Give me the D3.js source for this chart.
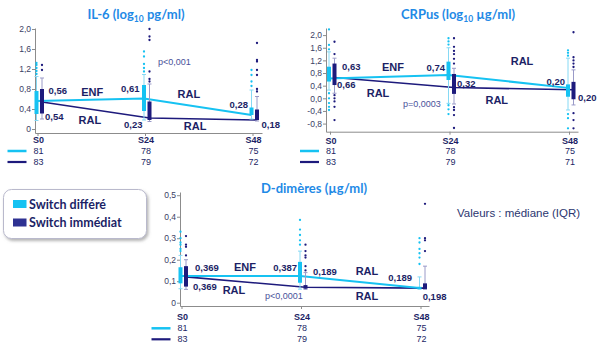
<!DOCTYPE html>
<html><head><meta charset="utf-8">
<script src="https://cdn.jsdelivr.net/npm/d3@7"></script>
<style>body{margin:0;background:#fff}svg{display:block}</style>
</head><body>
<svg id="c" width="600" height="350"></svg>
<script>
// ---------- DATA ----------
const weeks = ["S0", "S24", "S48"];
const weekNum = [0, 24, 48];
const seriesNames = ["Switch différé", "Switch immédiat"];
const armLabels = ["ENF", "RAL"];
const noteText = "Valeurs : médiane (IQR)";

// IL-6 (log10 pg/ml)
const il6Ticks = [0, 0.4, 0.8, 1.2, 1.6, 2.0];
const il6DiffMed = [0.56, 0.61, 0.28];
const il6ImmMed = [0.54, 0.22, 0.18];
const il6DiffLabel = ["0,56", "0,61", "0,28"];
const il6ImmLabel = ["0,54", "0,23", "0,18"];
const il6DiffQ1 = [0.30, 0.36, 0.28];
const il6DiffQ3 = [0.76, 0.88, 0.43];
const il6ImmQ1 = [0.31, 0.18, 0.18];
const il6ImmQ3 = [0.80, 0.55, 0.39];
const il6DiffLo = [0.17, 0.18, 0.20];
const il6DiffHi = [1.05, 1.09, 0.78];
const il6ImmLo = [0.20, 0.15, 0.16];
const il6ImmHi = [1.02, 0.90, 0.65];
const il6DiffOut = [[1.10, 1.16, 1.22, 1.28, 1.32], [1.15, 1.22, 1.30, 1.45, 1.55], [0.86, 0.95, 1.08, 1.18]];
const il6ImmOut = [[1.18, 1.28], [0.95, 1.00, 1.15, 1.78, 1.85, 2.00], [0.75, 0.80, 1.08, 1.18, 1.35, 1.38, 1.72]];
const il6DiffN = [81, 78, 75];
const il6ImmN = [83, 79, 72];
const il6P = "p<0,001";

// CRPus (log10 µg/ml)
const crpTicks = [-0.8, -0.4, 0, 0.4, 0.8, 1.2, 1.6, 2.0];
const crpDiffMed = [0.63, 0.74, 0.33];
const crpImmMed = [0.66, 0.34, 0.27];
const crpDiffLabel = ["0,63", "0,74", "0,20"];
const crpImmLabel = ["0,66", "0,32", "0,20"];
const crpDiffQ1 = [0.53, 0.58, 0.05];
const crpDiffQ3 = [1.00, 1.16, 0.44];
const crpImmQ1 = [0.42, 0.14, -0.03];
const crpImmQ3 = [1.10, 0.77, 0.52];
const crpDiffLo = [0.26, -0.16, -0.37];
const crpDiffHi = [1.47, 1.60, 1.27];
const crpImmLo = [0.16, -0.18, -0.21];
const crpImmHi = [1.27, 0.95, 0.90];
const crpDiffOut = [[-0.37, -0.27, -0.15, 0.0, 0.16, 1.55, 1.69, 2.18], [-0.50, -0.35, -0.22, 1.70, 1.80, 1.90], [-0.95, -0.63, -0.50, 1.35, 1.44, 1.52]];
const crpImmOut = [[-0.69, -0.27, -0.10, 0.0, 0.10, 1.40, 1.79], [-0.94, -0.53, -0.37, -0.28, 1.10, 1.25, 1.40, 1.50, 1.63, 1.90], [-0.95, -0.69, -0.47, 0.99, 1.10, 1.20, 1.30, 2.09]];
const crpDiffN = [81, 78, 75];
const crpImmN = [83, 79, 71];
const crpP = "p=0,0003";

// D-dimères (µg/ml)
const ddTicks = [0, 0.1, 0.2, 0.3, 0.4, 0.5];
const ddDiffMed = [0.124, 0.124, 0.068];
const ddImmMed = [0.120, 0.072, 0.068];
const ddDiffLabel = ["0,369", "0,387", "0,189"];
const ddImmLabel = ["0,369", "0,189", "0,198"];
const ddDiffQ1 = [0.090, 0.093, 0.064];
const ddDiffQ3 = [0.165, 0.190, 0.074];
const ddImmQ1 = [0.075, 0.065, 0.064];
const ddImmQ3 = [0.170, 0.082, 0.090];
const ddDiffLo = [0.065, 0.063, 0.062];
const ddDiffHi = [0.220, 0.240, 0.120];
const ddImmLo = [0.062, 0.062, 0.062];
const ddImmHi = [0.200, 0.140, 0.170];
const ddDiffOut = [[0.24, 0.25, 0.27, 0.28, 0.30, 0.33], [0.27, 0.29, 0.315, 0.34, 0.385], [0.18, 0.21, 0.23, 0.25, 0.28, 0.30]];
const ddImmOut = [[0.22, 0.26, 0.27, 0.31], [0.15, 0.17, 0.21, 0.22, 0.24, 0.27], [0.24, 0.29, 0.30, 0.46]];
const ddDiffN = [81, 78, 75];
const ddImmN = [83, 79, 72];
const ddP = "p<0,0001";

// ---------- DRAWING ----------
const C = {light: "#16c2f2", dark: "#1d1a7c", lightW: "#86d9f4", darkW: "#9a9ac8",
  text: "#1c1f66", title: "#1f8ae6", p: "#4a4f9a", axis: "#8c8c8c", tick: "#3a3d63", legDark: "#2e3192"};
const FONT = "'Liberation Sans', Arial, sans-serif";
const TFONT = "Lato, 'Liberation Sans', sans-serif";
const loc = d3.formatLocale({decimal: ",", thousands: " ", grouping: [3], currency: ["", "€"], minus: "-"});
const f1 = loc.format(".1f");

const svg = d3.select("#c");
const defs = svg.append("defs");
defs.append("filter").attr("id", "sh").attr("x", "-10%").attr("y", "-20%").attr("width", "130%").attr("height", "160%")
  .append("feDropShadow").attr("dx", 1.5).attr("dy", 2).attr("stdDeviation", 1.5)
  .attr("flood-color", "#777").attr("flood-opacity", 0.55);

function panel(p) {
  const g = svg.append("g");
  const x = d3.scaleLinear().domain([0, 48]).range(p.xr);
  const y = d3.scaleLinear().domain(p.yd).range(p.yr);

  // title
  const t = g.append("text").attr("x", p.titleX).attr("y", p.titleY).attr("text-anchor", "middle")
    .attr("font-family", TFONT).attr("font-weight", 700).attr("font-size", 13).attr("fill", C.title);
  p.title.forEach(part => {
    const s = t.append("tspan").text(part.t);
    if (part.sub) s.attr("font-size", 8.5).attr("dy", 3);
    else if (part.after) s.attr("dy", -3);
  });

  // y axis
  g.append("g").attr("transform", `translate(${p.ax},0)`)
    .call(d3.axisLeft(y).tickValues(p.ticks).tickSize(3).tickSizeOuter(0).tickPadding(1).tickFormat(p.tf))
    .call(a => {
      a.select(".domain").attr("stroke", C.axis);
      a.selectAll(".tick line").attr("stroke", C.axis);
      a.selectAll("text").attr("fill", C.tick).attr("font-size", 8.5).attr("font-family", FONT);
    });
  // x axis
  const x2 = x.copy().domain([x.invert(p.ax), x.invert(p.xEnd)]).range([p.ax, p.xEnd]);
  g.append("g").attr("transform", `translate(0,${p.yr[0]})`)
    .call(d3.axisBottom(x2).tickValues(weekNum).tickSize(3).tickSizeOuter(0).tickFormat(""))
    .call(a => { a.select(".domain").attr("stroke", C.axis); a.selectAll(".tick line").attr("stroke", C.axis); });

  const groups = [
    {off: -1, med: p.dMed, q1: p.dQ1, q3: p.dQ3, lo: p.dLo, hi: p.dHi, out: p.dOut, col: C.light, wcol: C.lightW, lw: 2},
    {off: 4.5, med: p.iMed, q1: p.iQ1, q3: p.iQ3, lo: p.iLo, hi: p.iHi, out: p.iOut, col: C.dark, wcol: C.darkW, lw: 1.6}
  ];
  // median lines (dark first)
  [groups[1], groups[0]].forEach(gr => {
    g.append("path").datum(gr.med)
      .attr("d", d3.line().x((d, i) => x(weekNum[i]) + gr.off).y(d => y(d)))
      .attr("fill", "none").attr("stroke", gr.col).attr("stroke-width", gr.lw);
  });
  // boxes
  groups.forEach(gr => {
    const bg = g.append("g");
    weekNum.forEach((w, i) => {
      const cx = x(w) + gr.off;
      bg.append("line").attr("x1", cx).attr("x2", cx).attr("y1", y(gr.lo[i])).attr("y2", y(gr.hi[i]))
        .attr("stroke", gr.wcol).attr("stroke-width", 1);
      [gr.lo[i], gr.hi[i]].forEach(v => bg.append("line").attr("x1", cx - 2).attr("x2", cx + 2)
        .attr("y1", y(v)).attr("y2", y(v)).attr("stroke", gr.wcol).attr("stroke-width", 1));
      bg.append("rect").attr("x", cx - 2).attr("width", 4)
        .attr("y", y(gr.q3[i])).attr("height", y(gr.q1[i]) - y(gr.q3[i])).attr("fill", gr.col);
      bg.selectAll(null).data(gr.out[i]).join("circle")
        .attr("cx", cx).attr("cy", d => y(d)).attr("r", 1.15).attr("fill", gr.col);
    });
  });

  // value labels
  const vl = [[p.dLab, groups[0], p.dPos], [p.iLab, groups[1], p.iPos]];
  vl.forEach(([labs, gr, pos]) => {
    labs.forEach((lab, i) => {
      const o = pos[i];
      g.append("text").attr("x", x(weekNum[i]) + gr.off + o[0]).attr("y", y(gr.med[i]) + o[1])
        .attr("text-anchor", o[2]).attr("dominant-baseline", "central")
        .attr("font-family", FONT).attr("font-weight", 700).attr("font-size", 9.5).attr("fill", C.text).text(lab);
    });
  });
  // arm labels and p-value
  p.notes.forEach(n => {
    g.append("text").attr("x", x(n.w)).attr("y", y(n.v)).attr("text-anchor", n.a)
      .attr("dominant-baseline", "central").attr("font-family", FONT)
      .attr("font-weight", n.p ? 400 : 700).attr("font-size", n.p ? 9 : 11)
      .attr("fill", n.p ? C.p : C.text).text(n.t);
  });

  // rows under axis
  weekNum.forEach((w, i) => {
    const cx = x(w) + 1;
    g.append("text").attr("x", cx).attr("y", p.rows[0]).attr("text-anchor", "middle").attr("dominant-baseline", "central")
      .attr("font-family", FONT).attr("font-weight", 700).attr("font-size", 9).attr("fill", C.text).text(weeks[i]);
    g.append("text").attr("x", cx).attr("y", p.rows[1]).attr("text-anchor", "middle").attr("dominant-baseline", "central")
      .attr("font-family", FONT).attr("font-size", 9).attr("fill", C.text).text(p.dN[i]);
    g.append("text").attr("x", cx).attr("y", p.rows[2]).attr("text-anchor", "middle").attr("dominant-baseline", "central")
      .attr("font-family", FONT).attr("font-size", 9).attr("fill", C.text).text(p.iN[i]);
  });
  const x0 = x(0);
  g.append("line").attr("x1", x0 - 30).attr("x2", x0 - 11).attr("y1", p.rows[1]).attr("y2", p.rows[1])
    .attr("stroke", C.light).attr("stroke-width", 2.5);
  g.append("line").attr("x1", x0 - 30).attr("x2", x0 - 11).attr("y1", p.rows[2]).attr("y2", p.rows[2])
    .attr("stroke", C.dark).attr("stroke-width", 2.2);
}

panel({
  title: [{t: "IL-6 (log"}, {t: "10", sub: true}, {t: " pg/ml)", after: true}], titleX: 136, titleY: 19,
  xr: [37.5, 252.5], yd: [-0.08, 2.02], yr: [133, 28], ax: 35, xEnd: 262, ticks: il6Ticks,
  tf: d => d === 0 ? "0" : f1(d), rows: [140, 151, 162],
  dMed: il6DiffMed, dQ1: il6DiffQ1, dQ3: il6DiffQ3, dLo: il6DiffLo, dHi: il6DiffHi, dOut: il6DiffOut,
  iMed: il6ImmMed, iQ1: il6ImmQ1, iQ3: il6ImmQ3, iLo: il6ImmLo, iHi: il6ImmHi, iOut: il6ImmOut,
  dLab: il6DiffLabel, iLab: il6ImmLabel, dN: il6DiffN, iN: il6ImmN,
  dPos: [[12, -11, "start"], [-4.5, -10.5, "end"], [-3.5, -11, "end"]],
  iPos: [[3, 14.5, "start"], [-7, 6, "end"], [4.5, 4, "start"]],
  notes: [{t: armLabels[0], w: 12.2, v: 0.74, a: "middle"}, {t: armLabels[1], w: 11.7, v: 0.18, a: "middle"},
    {t: armLabels[1], w: 33.8, v: 0.70, a: "middle"}, {t: armLabels[1], w: 35.2, v: 0.06, a: "middle"},
    {t: il6P, w: 26.9, v: 1.34, a: "start", p: true}]
});

panel({
  title: [{t: "CRPus (log"}, {t: "10", sub: true}, {t: " µg/ml)", after: true}], titleX: 458, titleY: 19,
  xr: [330, 569], yd: [-1.057, 2.225], yr: [131.7, 28], ax: 326, xEnd: 578, ticks: crpTicks,
  tf: d => f1(d), rows: [140.5, 151, 162],
  dMed: crpDiffMed, dQ1: crpDiffQ1, dQ3: crpDiffQ3, dLo: crpDiffLo, dHi: crpDiffHi, dOut: crpDiffOut,
  iMed: crpImmMed, iQ1: crpImmQ1, iQ3: crpImmQ3, iLo: crpImmLo, iHi: crpImmHi, iOut: crpImmOut,
  dLab: crpDiffLabel, iLab: crpImmLabel, dN: crpDiffN, iN: crpImmN,
  dPos: [[13, -11.4, "start"], [-3.5, -7, "end"], [-3, -6, "end"]],
  iPos: [[2.5, 6.6, "start"], [3, -3.6, "start"], [4.5, 8, "start"]],
  notes: [{t: armLabels[0], w: 12.65, v: 0.99, a: "middle"}, {t: armLabels[1], w: 9.64, v: 0.17, a: "middle"},
    {t: armLabels[1], w: 38.56, v: 1.18, a: "middle"}, {t: armLabels[1], w: 33.5, v: -0.05, a: "middle"},
    {t: crpP, w: 14.66, v: -0.18, a: "start", p: true}]
});

panel({
  title: [{t: "D-dimères (µg/ml)"}], titleX: 314, titleY: 193,
  xr: [181.5, 420.5], yd: [-0.0153, 0.515], yr: [306, 192], ax: 180, xEnd: 429, ticks: ddTicks,
  tf: d => d === 0 ? "0" : f1(d), rows: [316.7, 328.3, 339.3],
  dMed: ddDiffMed, dQ1: ddDiffQ1, dQ3: ddDiffQ3, dLo: ddDiffLo, dHi: ddDiffHi, dOut: ddDiffOut,
  iMed: ddImmMed, iQ1: ddImmQ1, iQ3: ddImmQ3, iLo: ddImmLo, iHi: ddImmHi, iOut: ddImmOut,
  dLab: ddDiffLabel, iLab: ddImmLabel, dN: ddDiffN, iN: ddImmN,
  dPos: [[14.5, -9, "start"], [-3, -9, "end"], [-7.5, -11, "end"]],
  iPos: [[7, 10, "start"], [7.5, -16, "start"], [-2.3, 8, "start"]],
  notes: [{t: armLabels[0], w: 12.75, v: 0.166, a: "middle"}, {t: armLabels[1], w: 10.54, v: 0.059, a: "middle"},
    {t: armLabels[1], w: 37.25, v: 0.147, a: "middle"}, {t: armLabels[1], w: 37.25, v: 0.031, a: "middle"},
    {t: ddP, w: 16.77, v: 0.031, a: "start", p: true}]
});

// legend
const lg = svg.append("g");
lg.append("rect").attr("x", 3.5).attr("y", 189.5).attr("width", 143).attr("height", 49).attr("rx", 8)
  .attr("fill", "#fff").attr("stroke", "#b9b9cc").attr("stroke-width", 1).attr("filter", "url(#sh)");
[C.light, C.legDark].forEach((col, i) => {
  lg.append("rect").attr("x", 13).attr("y", 200 + i * 18.5).attr("width", 13.5).attr("height", 8).attr("fill", col);
  lg.append("text").attr("x", 29).attr("y", 204.3 + i * 18.4).attr("dominant-baseline", "central")
    .attr("font-family", TFONT).attr("font-weight", 700).attr("font-size", 12.5).attr("fill", C.text).text(seriesNames[i]);
});
svg.append("text").attr("x", 457).attr("y", 213).attr("dominant-baseline", "central")
  .attr("font-family", FONT).attr("font-size", 11.5).attr("fill", "#2b3670").text(noteText);
</script>
</body></html>
